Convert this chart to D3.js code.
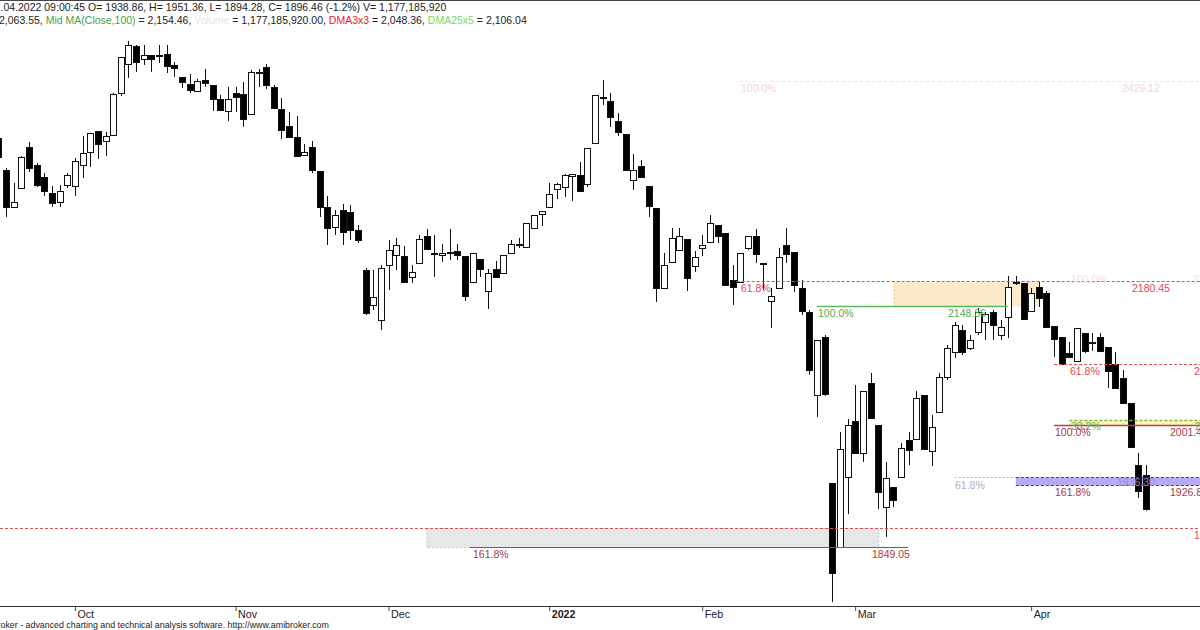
<!DOCTYPE html>
<html><head><meta charset="utf-8">
<script src="https://cdn.jsdelivr.net/npm/d3@7"></script>
<style>
html,body{margin:0;padding:0;background:#fff;}
svg{display:block;font-family:Arial,"Liberation Sans",sans-serif;}
</style>
</head><body>
<svg id="c" width="1200" height="630"></svg>
<script>
// ---------- DATA ----------
const openP = [
2358.7,2318.8,2272.7,2296.3,2347.4,2325.0,2310.1,2290.1,2278.9,2300.1,
2298.8,2325.0,2341.2,2367.4,2354.9,2362.4,2414.7,2450.9,2473.3,2457.1,
2462.1,2462.1,2463.3,2449.6,2434.7,2425.9,2417.2,2430.9,2424.7,2407.2,
2392.3,2414.7,2413.5,2388.6,2439.6,2447.1,2422.2,2394.8,2373.6,2359.9,
2337.5,2347.4,2317.5,2272.7,2247.7,2268.9,2266.4,2244.0,2194.2,2150.6,
2131.9,2200.4,2212.9,2211.6,2185.5,2202.9,2236.5,2215.4,2212.9,2215.4,
2217.9,2211.6,2179.2,2207.9,2168.0,2195.4,2190.5,2215.4,2225.3,2222.8,
2246.5,2263.9,2272.7,2295.1,2297.6,2311.3,2312.5,2301.3,2352.4,2409.7,
2404.8,2379.8,2363.6,2306.3,2323.8,2298.8,2271.4,2171.7,2204.2,2219.1,
2232.8,2199.2,2221.6,2229.1,2250.2,2240.3,2181.7,2179.2,2221.6,2236.5,
2202.9,2155.6,2171.7,2225.3,2216.6,2171.7,2141.8,2038.4,2110.7,1928.8,
1849.0,1936.3,2006.0,1966.2,2053.4,2000.8,1898.9,1923.8,1936.3,1982.4,
1983.6,2038.4,1968.7,2017.2,2060.9,2092.0,2119.4,2097.0,2116.9,2129.4,
2141.8,2113.2,2135.6,2179.2,2178.0,2143.1,2173.0,2165.5,2124.4,2110.7,
2090.8,2080.8,2115.7,2104.5,2110.7,2098.2,2077.1,2059.6,2028.5,1951.2,
1938.86];
const highP = [
2362.4,2321.3,2302.6,2336.2,2353.7,2327.5,2315.0,2298.8,2300.1,2315.0,
2333.7,2361.1,2364.9,2367.4,2366.1,2414.7,2459.6,2479.5,2474.5,2474.5,
2462.1,2474.5,2474.5,2453.3,2434.7,2438.4,2432.2,2444.6,2424.7,2412.2,
2422.2,2422.2,2428.4,2443.4,2444.6,2450.9,2424.7,2408.5,2391.0,2386.1,
2351.2,2354.9,2317.5,2286.4,2268.9,2276.4,2275.2,2250.2,2196.7,2194.2,
2200.4,2231.6,2234.1,2224.1,2200.4,2237.8,2245.3,2237.8,2226.6,2245.3,
2226.6,2211.6,2215.4,2207.9,2195.4,2205.4,2212.9,2231.6,2234.1,2252.7,
2262.7,2267.7,2302.6,2302.6,2313.8,2313.8,2328.7,2346.2,2412.2,2430.9,
2414.7,2389.8,2363.6,2338.7,2331.2,2298.8,2271.4,2215.4,2246.5,2246.5,
2232.8,2217.9,2237.8,2262.7,2250.2,2240.3,2200.4,2215.4,2236.5,2245.3,
2202.9,2171.7,2221.6,2246.5,2216.6,2181.7,2144.3,2107.0,2113.2,1928.8,
1992.3,2008.5,2050.9,2043.4,2065.9,2000.8,1954.9,1923.8,1978.6,1992.3,
2043.4,2038.4,2013.5,2065.9,2100.7,2129.4,2125.7,2113.2,2146.8,2141.8,
2144.3,2131.9,2186.7,2186.7,2178.0,2171.7,2179.2,2168.0,2124.4,2110.7,
2104.5,2121.9,2115.7,2115.7,2115.7,2098.2,2092.0,2069.6,2028.5,1966.2,
1951.36];
const lowP = [
2331.2,2260.2,2271.4,2296.3,2316.3,2297.6,2286.4,2272.7,2272.7,2296.3,
2286.4,2308.8,2322.5,2332.5,2336.2,2362.4,2411.0,2433.4,2440.9,2449.6,
2440.9,2452.1,2439.6,2434.7,2421.0,2414.7,2416.0,2422.2,2392.3,2393.5,
2379.8,2391.0,2372.4,2388.6,2422.2,2419.7,2396.0,2357.4,2359.9,2336.2,
2336.2,2315.0,2260.2,2225.3,2237.8,2225.3,2231.6,2227.8,2138.1,2144.3,
2119.4,2169.3,2194.2,2178.0,2178.0,2202.9,2219.1,2185.5,2204.2,2206.6,
2206.6,2155.6,2179.2,2185.5,2145.6,2185.5,2189.2,2215.4,2221.6,2221.6,
2245.3,2249.0,2272.7,2282.6,2285.1,2280.2,2292.6,2297.6,2352.4,2399.8,
2372.4,2361.1,2318.8,2293.9,2310.1,2260.2,2154.3,2171.7,2204.2,2219.1,
2168.0,2191.7,2211.6,2229.1,2227.8,2175.5,2150.6,2179.2,2219.1,2202.9,
2169.3,2121.9,2171.7,2202.9,2166.8,2138.1,2063.4,2011.0,2037.2,1780.5,
1849.0,1890.2,1966.2,1955.0,2009.8,1896.4,1861.5,1898.9,1935.0,1951.2,
1983.6,1971.2,1950.0,2017.2,2057.1,2084.5,2088.3,2094.5,2113.2,2106.9,
2106.9,2106.9,2109.5,2175.5,2133.1,2143.1,2148.1,2123.2,2085.8,2077.1,
2085.8,2080.8,2090.8,2093.3,2092.0,2047.2,2047.2,2028.5,1973.6,1910.1,
1894.28];
const closeP = [
2335.0,2272.7,2278.9,2335.0,2321.3,2300.1,2292.6,2277.7,2292.6,2312.5,
2330.0,2339.9,2364.9,2351.2,2361.1,2413.5,2459.6,2474.5,2453.4,2462.1,
2457.1,2460.8,2448.4,2445.9,2428.4,2418.5,2429.7,2427.2,2407.2,2393.5,
2407.2,2409.7,2382.3,2440.9,2440.9,2424.7,2396.0,2368.6,2359.9,2336.2,
2341.2,2318.8,2272.7,2246.5,2262.7,2241.5,2244.0,2231.6,2140.6,2160.5,
2196.7,2219.1,2225.3,2179.2,2191.7,2232.8,2220.3,2214.1,2215.4,2216.6,
2212.9,2161.8,2215.4,2195.4,2190.5,2185.5,2212.9,2226.6,2226.6,2252.7,
2262.7,2267.7,2288.9,2301.3,2312.5,2313.8,2292.6,2346.2,2412.2,2409.0,
2384.8,2366.1,2318.8,2318.8,2310.1,2273.9,2171.7,2200.4,2234.1,2236.5,
2184.2,2210.4,2225.3,2252.7,2236.5,2175.5,2173.0,2215.4,2236.5,2214.1,
2201.7,2161.8,2210.4,2214.1,2175.5,2143.1,2069.6,2107.0,2039.7,1816.6,
1971.1,2000.8,1966.2,2043.4,2009.8,1917.6,1935.0,1907.6,1972.4,1969.9,
2034.7,1971.2,1998.6,2060.9,2097.0,2125.7,2092.0,2107.0,2141.8,2139.4,
2125.7,2123.2,2173.0,2178.6,2133.1,2165.5,2159.3,2123.2,2108.2,2077.1,
2085.8,2121.9,2093.3,2103.8,2093.3,2068.3,2047.2,2028.5,1973.6,1918.8,
1896.46];

const monthTickIdx = [10, 31, 51, 72, 92, 112, 135];
const monthTickLabels = ['Oct', 'Nov', 'Dec', '2022', 'Feb', 'Mar', 'Apr'];

// Fibonacci / level annotations (price levels)
const lvlTop100 = 2429.12;
const lvl618a = 2180.45;
const lvlGreen100 = 2148.86;
const lvl618b = 2077.10;
const lvl382 = 2007.31;
const lvl100b = 2001.42;
const lvlBoxHi = 1936.30;
const lvl1618a = 1926.83;
const lvlGreyTop = 1872.70;
const lvl1618b = 1849.05;

const headerLine1 = ['21', '.04.2022 09:00:45 O= 1938.86, H= 1951.36, L= 1894.28, C= 1896.46 (-1.2%) V= 1,177,185,920'];
const headerLine2 = [
  ['2,063.55, ', '#222'], ['Mid MA(Close,100)', '#3fa34d'], [' = 2,154.46, ', '#222'],
  ['Volume', '#e4e4e4'], [' = 1,177,185,920.00, ', '#222'], ['DMA3x3', '#ee2222'],
  [' = 2,048.36, ', '#222'], ['DMA25x5', '#6fdc6f'], [' = 2,106.04', '#222']];
const footer = ['AmiBr', 'oker - advanced charting and technical analysis software. http://www.amibroker.com'];

// ---------- CHART ----------
const W = 1200, H = 630;
const svg = d3.select('#c');
svg.append('rect').attr('width', W).attr('height', H).attr('fill', '#fff');

const N = closeP.length;
const x = d3.scaleLinear().domain([0, N - 1]).range([-1.6, 1145.9]);
const y = d3.scaleLinear().domain([lvl1618b, lvl618a]).range([547, 281]);
const px = v => Math.round(y(v)) + 0.5;

const red = '#e04a5a', maroon = '#a8394a', green = '#55aa55';

// --- boxes (behind candles)
svg.append('rect').attr('x', x(56)).attr('y', px(lvlGreyTop)).attr('width', x(115.1) - x(56))
  .attr('height', px(lvl1618b) - px(lvlGreyTop)).attr('fill', '#e7e7e7')
  .attr('stroke', '#c4c4c4').attr('stroke-dasharray', '2,2');
svg.append('rect').attr('x', x(117.1)).attr('y', px(lvl618a)).attr('width', x(136.2) - x(117.1))
  .attr('height', px(lvlGreen100) - px(lvl618a)).attr('fill', '#fde9cc');
svg.append('line').attr('x1', x(117.1)).attr('x2', x(117.1)).attr('y1', px(lvl618a)).attr('y2', px(lvlGreen100))
  .attr('stroke', '#f2b878').attr('stroke-dasharray', '2,2');
svg.append('rect').attr('x', x(133)).attr('y', px(lvlBoxHi)).attr('width', W - x(133))
  .attr('height', px(lvl1618a) - px(lvlBoxHi)).attr('fill', '#b9aaf6');
svg.append('rect').attr('x', x(140)).attr('y', px(lvl382)).attr('width', W - x(140))
  .attr('height', px(lvl100b) - px(lvl382)).attr('fill', '#fff3b8');

// --- candles
const cand = svg.append('g');
d3.range(N).forEach(i => {
  const cx = Math.round(x(i)) + 0.5;
  const up = closeP[i] >= openP[i];
  cand.append('line').attr('x1', cx).attr('x2', cx)
    .attr('y1', y(highP[i])).attr('y2', y(lowP[i])).attr('stroke', '#111').attr('stroke-width', 1);
  const top = Math.round(y(Math.max(openP[i], closeP[i]))) + 0.5;
  const bot = Math.round(y(Math.min(openP[i], closeP[i]))) + 0.5;
  cand.append('rect').attr('x', cx - 3).attr('y', top).attr('width', 6).attr('height', Math.max(bot - top, 1))
    .attr('fill', up ? '#fff' : '#000').attr('stroke', '#111').attr('stroke-width', 1);
});

// --- level lines
function hline(price, i0, xEnd, color, dash, w) {
  const l = svg.append('line').attr('x1', typeof i0 === 'number' ? x(i0) : 0).attr('x2', xEnd)
    .attr('y1', px(price)).attr('y2', px(price)).attr('stroke', color).attr('stroke-width', w || 1);
  if (dash) l.attr('stroke-dasharray', dash);
  return l;
}
hline(lvlTop100, 97, W, '#f7dcdc', '3,3');
hline(lvl618a, 96.5, W, red, '3,2');
hline(lvlGreen100, 107, x(132), '#5cb85c', null, 1.6);
hline(lvl618b, 138, W, red, '3,2');
hline(lvl382, 140, W, '#7cc040', '3,2', 1.3);
hline(lvl100b, 138, W, '#b8404e', null, 1.4);
hline(lvlBoxHi, 125, x(133), '#bbbbbb', '2,2');
hline(lvlBoxHi, 133, W, '#3838b0', '3,2');
hline(lvl1618a, 133, W, '#3838b0', '3,2');
hline(lvlGreyTop, null, W, red, '3,2');
hline(lvl1618b, 61.6, x(118.9), '#b83a4a', null, 1.2);

// --- labels
function lab(t, xx, price, color, dy) {
  svg.append('text').attr('x', xx).attr('y', px(price) + (dy || 10)).text(t)
    .style('font-size', '10.5px').attr('fill', color);
}
lab('100.0%', 741, lvlTop100, '#f6d4d4');
lab(lvlTop100.toFixed(2), 1122, lvlTop100, '#f6d4d4');
lab('61.8%', 741, lvl618a, red);
lab(lvl618a.toFixed(2), 1132, lvl618a, red);
lab('100.0%', 1071, lvl618a, '#f8dede', 1);
lab('2180.45', 1193, lvl618a, '#f8dede', 1);
lab('100.0%', 818, lvlGreen100, green);
lab(lvlGreen100.toFixed(2), 948, lvlGreen100, green);
lab('61.8%', 1070, lvl618b, red);
lab(lvl618b.toFixed(2), 1194, lvl618b, red);
lab('38.2%', 1071, lvl382, '#66aa44', 9);
lab('2007.31', 1195, lvl382, '#66aa44', 9);
lab('100.0%', 1055, lvl100b, maroon);
lab(lvl100b.toFixed(2), 1170, lvl100b, maroon);
lab('61.8%', 955, lvlBoxHi, '#a9b2cc', 11);
lab(lvlBoxHi.toFixed(2), 1117, lvlBoxHi, '#978ad2', 8);
lab('161.8%', 1055, lvl1618a, maroon);
lab(lvl1618a.toFixed(2), 1170, lvl1618a, maroon);
lab(lvlGreyTop.toFixed(2), 1194, lvlGreyTop, red);
lab('161.8%', 473, lvl1618b, maroon);
lab(lvl1618b.toFixed(2), 872, lvl1618b, maroon);

// --- x axis
const axY = 606.5;
svg.append('line').attr('x1', 0).attr('x2', W).attr('y1', axY).attr('y2', axY).attr('stroke', '#333');
const axis = d3.axisBottom(x).tickValues(monthTickIdx).tickFormat((d, i) => monthTickLabels[i])
  .tickSize(5).tickSizeOuter(0);
const gx = svg.append('g').attr('transform', `translate(0,${axY - 0.5})`).call(axis);
gx.select('.domain').remove();
gx.selectAll('.tick line').attr('stroke', '#444');
gx.selectAll('.tick text').attr('text-anchor', 'start').attr('x', 2).attr('y', 4).attr('dy', '0.71em')
  .style('font-size', '10.7px').style('font-family', 'Arial, "Liberation Sans", sans-serif')
  .attr('fill', '#222').style('font-weight', (d, i) => monthTickLabels[i] === '2022' ? 'bold' : 'normal');

// --- header
svg.append('line').attr('x1', 0).attr('x2', W).attr('y1', 0.5).attr('y2', 0.5).attr('stroke', '#444');
function measure(t, size) {
  const tt = svg.append('text').style('font-size', size).text(t);
  const w = tt.node().getComputedTextLength(); tt.remove(); return w;
}
const hSize = '10.5px';
const pre1 = measure(headerLine1[0], hSize);
svg.append('text').attr('x', -pre1 + 0.5).attr('y', 11).style('font-size', hSize).attr('fill', '#222')
  .text(headerLine1[0] + headerLine1[1]);
const t2 = svg.append('text').attr('x', -1).attr('y', 24).style('font-size', hSize);
headerLine2.forEach(([s, c]) => t2.append('tspan').attr('fill', c).text(s));

// --- footer
const fSize = '8.85px';
const preF = measure(footer[0], fSize);
svg.append('text').attr('x', -preF + 0.5).attr('y', 628).style('font-size', fSize).attr('fill', '#222')
  .text(footer[0] + footer[1]);
</script>
</body></html>
